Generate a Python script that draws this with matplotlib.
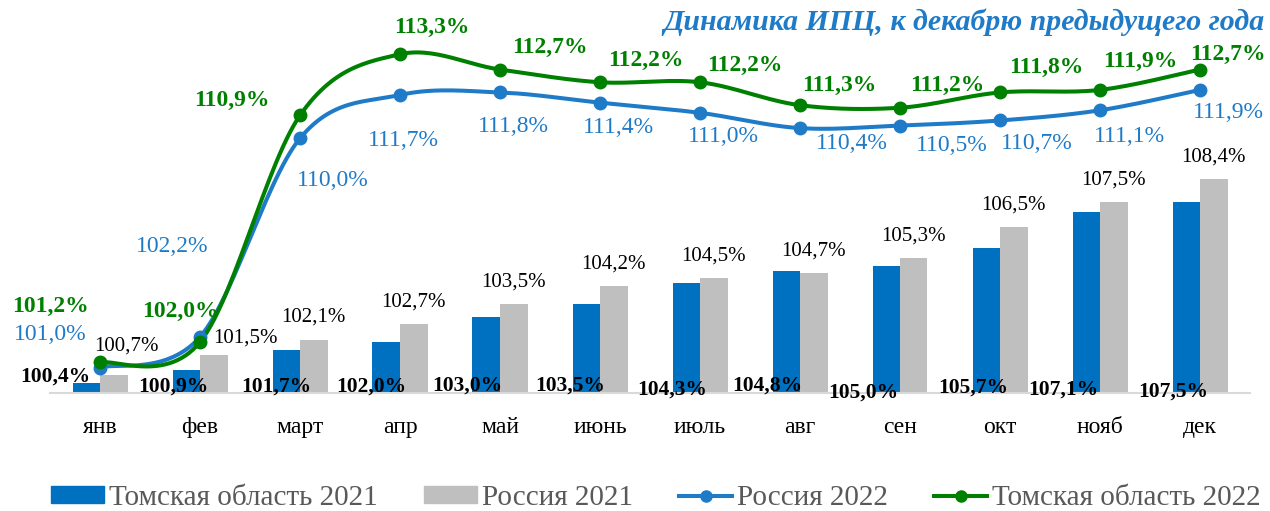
import numpy as np
import matplotlib
matplotlib.use("Agg")
import matplotlib.pyplot as plt
from matplotlib.lines import Line2D
from matplotlib.patches import Patch

months = ["янв", "фев", "март", "апр", "май", "июнь", "июль", "авг", "сен", "окт", "нояб", "дек"]
tomsk_2021 = [100.4, 100.9, 101.7, 102.0, 103.0, 103.5, 104.3, 104.8, 105.0, 105.7, 107.1, 107.5]
russia_2021 = [100.7, 101.5, 102.1, 102.7, 103.5, 104.2, 104.5, 104.7, 105.3, 106.5, 107.5, 108.4]
russia_2022 = [101.0, 102.2, 110.0, 111.7, 111.8, 111.4, 111.0, 110.4, 110.5, 110.7, 111.1, 111.9]
tomsk_2022 = [101.2, 102.0, 110.9, 113.3, 112.7, 112.2, 112.2, 111.3, 111.2, 111.8, 111.9, 112.7]

BLUE = "#0070C0"
GRAY = "#BFBFBF"
LBLUE = "#1F7BC8"
GREEN = "#008000"
FONT = "Liberation Serif"

# label offsets in pixels (dx, dy up)
off_tomsk21 = [(-31, 16), (-13, 6), (-10, 6), (-15, 6), (-19, 7), (-16, 7),
               (-14, 3), (-19, 7), (-23, 0), (-13, 5), (-23, 3), (-13, 1)]
off_russia21 = [(13, 29), (32, 17)] + [(0, 22)] * 10
off_russia22 = [(-50, 33), (-28, 90), (33, -42), (3, -45), (13, -34), (18, -25),
                (23, -24), (52, -15), (52, -20), (37, -23), (29, -26), (28, -23)]
off_tomsk22 = [(-50, 56), (-20, 31), (-68, 15), (32, 27), (50, 22), (46, 22),
               (45, 17), (39, 20), (47, 22), (46, 25), (40, 28), (28, 15)]


def fmt(v):
    return f"{v:.1f}%".replace(".", ",")


def smooth(xs, ys, n=30):
    # Catmull-Rom style smoothing like Excel's smoothed line
    xs = np.asarray(xs, float)
    ys = np.asarray(ys, float)
    px = np.concatenate([[xs[0]], xs, [xs[-1]]])
    py = np.concatenate([[ys[0]], ys, [ys[-1]]])
    outx, outy = [], []
    t = np.linspace(0, 1, n)
    for i in range(1, len(px) - 2):
        p0 = np.array([px[i], py[i]])
        p3 = np.array([px[i + 1], py[i + 1]])
        c1 = p0 + (np.array([px[i + 1], py[i + 1]]) - np.array([px[i - 1], py[i - 1]])) / 6
        c2 = p3 - (np.array([px[i + 2], py[i + 2]]) - np.array([px[i], py[i]])) / 6
        b = ((1 - t) ** 3)[:, None] * p0 + (3 * (1 - t) ** 2 * t)[:, None] * c1 \
            + (3 * (1 - t) * t ** 2)[:, None] * c2 + (t ** 3)[:, None] * p3
        outx.extend(b[:, 0])
        outy.extend(b[:, 1])
    return np.array(outx), np.array(outy)


fig = plt.figure(figsize=(12.7, 5.11), dpi=100)
ax = fig.add_axes([50 / 1270, 118 / 511, 1200 / 1270, 393 / 511])

x = np.arange(len(months))
w = 0.275
ax.bar(x - w / 2, np.array(tomsk_2021) - 100, w, bottom=100, color=BLUE, zorder=2)
ax.bar(x + w / 2, np.array(russia_2021) - 100, w, bottom=100, color=GRAY, zorder=2)

sx, sy = smooth(x, russia_2022)
ax.plot(sx, sy, color=LBLUE, lw=2.9, zorder=3, solid_capstyle="round")
ax.plot(x, russia_2022, "o", color=LBLUE, ms=9, zorder=4)
sx, sy = smooth(x, tomsk_2022)
ax.plot(sx, sy, color=GREEN, lw=2.9, zorder=3, solid_capstyle="round")
ax.plot(x, tomsk_2022, "o", color=GREEN, ms=9, zorder=4)

for i in range(len(months)):
    ax.annotate(fmt(tomsk_2021[i]), (x[i] - w / 2, 100), xytext=off_tomsk21[i],
                textcoords="offset pixels", ha="center", va="center",
                fontsize=15.5, fontweight="bold", family=FONT, color="black", zorder=5)
    ax.annotate(fmt(russia_2021[i]), (x[i] + w / 2, russia_2021[i]), xytext=off_russia21[i],
                textcoords="offset pixels", ha="center", va="center",
                fontsize=15, family=FONT, color="black", zorder=5)
    ax.annotate(fmt(russia_2022[i]), (x[i], russia_2022[i]), xytext=off_russia22[i],
                textcoords="offset pixels", ha="center", va="center",
                fontsize=17, family=FONT, color=LBLUE, zorder=5)
    ax.annotate(fmt(tomsk_2022[i]), (x[i], tomsk_2022[i]), xytext=off_tomsk22[i],
                textcoords="offset pixels", ha="center", va="center",
                fontsize=17, fontweight="bold", family=FONT, color=GREEN, zorder=5)

ax.set_xlim(-0.5, len(months) - 0.5)
ax.set_ylim(100, 115.43)
for s in ["top", "right", "left"]:
    ax.spines[s].set_visible(False)
ax.spines["bottom"].set_color("#D9D9D9")
ax.spines["bottom"].set_linewidth(1.5)
ax.set_yticks([])
ax.set_xticks(x)
ax.set_xticklabels(months, family=FONT, fontsize=17)
ax.tick_params(axis="x", length=0, pad=17)

fig.text(1265 / 1270, 1 - 22 / 511, "Динамика ИПЦ, к декабрю предыдущего года",
         ha="right", va="center", fontsize=21.5, fontweight="bold", fontstyle="italic",
         family=FONT, color=LBLUE)

handles = [
    Patch(color=BLUE, label="Томская область 2021"),
    Patch(color=GRAY, label="Россия 2021"),
    Line2D([], [], color=LBLUE, lw=2.9, marker="o", ms=8, label="Россия 2022"),
    Line2D([], [], color=GREEN, lw=2.9, marker="o", ms=8, label="Томская область 2022"),
]
fig.legend(handles=handles, loc="center", bbox_to_anchor=(656 / 1270, 1 - 498 / 511), ncol=4,
           frameon=False, prop={"family": FONT, "size": 21}, labelcolor="#595959",
           handlelength=1.8, handleheight=0.5, handletextpad=0.17, columnspacing=1.6,
           borderpad=0, borderaxespad=0)

fig.savefig("out.png", dpi=100)
